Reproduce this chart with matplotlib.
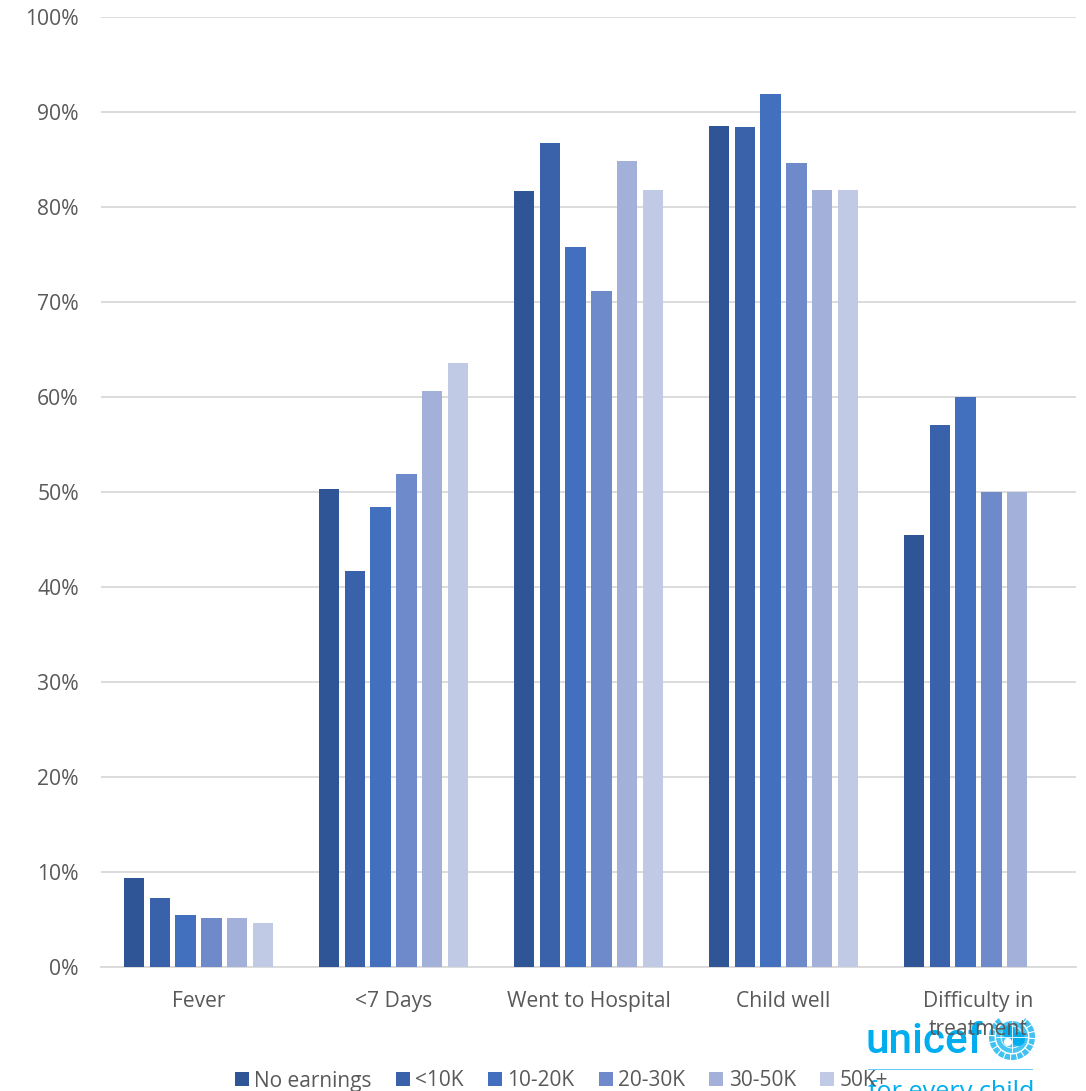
import numpy as np
import matplotlib
matplotlib.use("Agg")
import matplotlib.pyplot as plt
from matplotlib.patches import Circle, Rectangle, Wedge

categories = ["Fever", "<7 Days", "Went to Hospital", "Child well", "Difficulty in\ntreatment"]
tick_labels = ["0%", "10%", "20%", "30%", "40%", "50%", "60%", "70%", "80%", "90%", "100%"]
no_earnings = [9.4, 50.3, 81.7, 88.5, 45.5]
under_10k = [7.3, 41.7, 86.7, 88.4, 57.1]
k10_20 = [5.5, 48.4, 75.8, 91.9, 60.0]
k20_30 = [5.2, 51.9, 71.2, 84.6, 50.0]
k30_50 = [5.2, 60.6, 84.8, 81.8, 50.0]
k50_plus = [4.6, 63.6, 81.8, 81.8, None]
series_names = ["No earnings", "<10K", "10-20K", "20-30K", "30-50K", "50K+"]
series_values = [no_earnings, under_10k, k10_20, k20_30, k30_50, k50_plus]
series_colors = ["#2F5597", "#3A62AA", "#4270BE", "#6F8ACB", "#A2B0DA", "#C0CAE4"]

W, H = 1086, 1091
GREY = "#595959"
BLUE = "#00AEEF"
plt.rcParams["font.family"] = ["Open Sans", "DejaVu Sans"]

fig = plt.figure(figsize=(W / 100, H / 100), dpi=100)

# UNICEF signature sits underneath the chart, in pixel coordinates
logo = fig.add_axes([0, 0, 1, 1], facecolor="none", zorder=0)
logo.set_xlim(0, W)
logo.set_ylim(H, 0)
logo.axis("off")
logo.text(866, 1053, "unicef", color=BLUE, fontsize=30.5, fontweight="medium",
          family=["Roboto", "DejaVu Sans"], va="baseline", ha="left")
logo.add_patch(Rectangle((868, 1068.5), 165, 1.8, color="#66CEF5", lw=0))
logo.text(1034, 1099, "for every child", color=BLUE, fontsize=18.2, ha="right",
          va="baseline", clip_on=False)

# Emblem: laurel branches open at the top, globe with mother and child
cx, cy, r = 1012, 1037, 16
logo.add_patch(Wedge((cx, cy), r + 7, -55, 235, width=5.5, facecolor="#3FC1F2", lw=0))
for a in np.radians(np.arange(-50, 235, 18)):
    logo.plot([cx + (r + 1) * np.cos(a), cx + (r + 7) * np.cos(a)],
              [cy + (r + 1) * np.sin(a), cy + (r + 7) * np.sin(a)], color="white", lw=0.8)
logo.add_patch(Circle((cx, cy), r, facecolor="#45C6F4", lw=0))
for rr in (6, 11):
    logo.add_patch(Circle((cx, cy), rr, fill=False, edgecolor="white", lw=0.6))
logo.plot([cx - r, cx + r], [cy, cy], color="white", lw=0.6)
logo.plot([cx, cx], [cy - r, cy + r], color="white", lw=0.6)
logo.add_patch(Circle((cx - 3, cy - 5), 6.5, facecolor=BLUE, lw=0))
logo.add_patch(Circle((cx + 6, cy + 2), 7, facecolor=BLUE, lw=0))
logo.add_patch(Circle((cx - 4, cy + 5), 4, facecolor="white", lw=0))

ax = fig.add_axes([101 / W, 1 - 967 / H, 975 / W, 950 / H], facecolor="none", zorder=1)

pitch = 0.1323
width = 0.105
x = np.arange(len(categories))
for i, (name, vals, col) in enumerate(zip(series_names, series_values, series_colors)):
    v = [np.nan if a is None else a for a in vals]
    ax.bar(x + (i - 2.5) * pitch, v, width=width, color=col, label=name, zorder=3)

ax.set_xlim(-0.5, 4.5)
ax.set_ylim(0, 100)
ax.set_yticks(np.arange(0, 101, 10))
ax.set_yticklabels(tick_labels)
ax.set_xticks(x)
ax.set_xticklabels(categories, linespacing=1.44)
ax.grid(axis="y", color="#D9D9D9", linewidth=1.3, zorder=0)
ax.set_axisbelow(True)
ax.tick_params(axis="both", length=0, labelsize=15.2, labelcolor=GREY)
ax.tick_params(axis="x", pad=17)
ax.tick_params(axis="y", pad=16)
for side in ("top", "left", "right"):
    ax.spines[side].set_visible(False)
ax.spines["bottom"].set_color("#D9D9D9")
ax.spines["bottom"].set_linewidth(1.3)

# Legend row along the bottom edge
fig.legend(
    *ax.get_legend_handles_labels(),
    loc="center left",
    bbox_to_anchor=(235 / W, 1 - 1081 / H),
    ncol=6,
    frameon=False,
    fontsize=15,
    labelcolor=GREY,
    handlelength=0.68,
    handleheight=0.68,
    handletextpad=0.25,
    columnspacing=1.16,
    borderpad=0,
    borderaxespad=0,
)

fig.savefig("out.png", dpi=100, facecolor="white")
